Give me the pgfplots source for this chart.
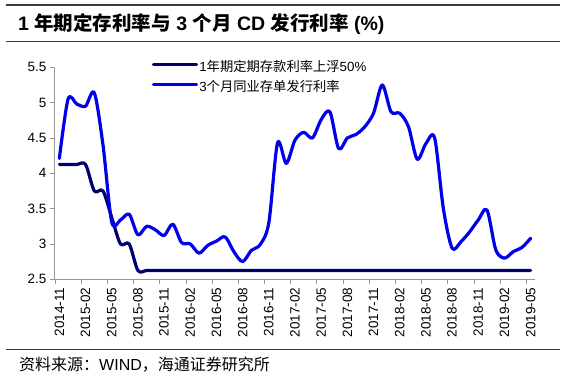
\documentclass[border=0pt]{standalone}
\usepackage{fontspec}
\setmainfont{Liberation Sans}
\newfontfamily\cjk{Noto Sans CJK SC}
\usepackage{pgfplots}
\usepackage{pgfplotstable}
\pgfplotsset{compat=1.18}
\definecolor{navy}{RGB}{0,0,110}
\definecolor{cdblue}{RGB}{0,0,235}
\definecolor{axgray}{RGB}{150,150,150}
\definecolor{rule}{RGB}{60,60,60}

% x = month index + 0.5 (2014-11 = 0)
\pgfplotstableread{
x y
0.5 4.125
1.5 4.125
2.5 4.125
3.5 4.125
4.5 3.75
5.5 3.75
6.5 3.375
7.5 3.0
8.5 3.0
9.5 2.625
10.5 2.625
11.5 2.625
12.5 2.625
13.5 2.625
14.5 2.625
15.5 2.625
16.5 2.625
17.5 2.625
18.5 2.625
19.5 2.625
20.5 2.625
21.5 2.625
22.5 2.625
23.5 2.625
24.5 2.625
25.5 2.625
26.5 2.625
27.5 2.625
28.5 2.625
29.5 2.625
30.5 2.625
31.5 2.625
32.5 2.625
33.5 2.625
34.5 2.625
35.5 2.625
36.5 2.625
37.5 2.625
38.5 2.625
39.5 2.625
40.5 2.625
41.5 2.625
42.5 2.625
43.5 2.625
44.5 2.625
45.5 2.625
46.5 2.625
47.5 2.625
48.5 2.625
49.5 2.625
50.5 2.625
51.5 2.625
52.5 2.625
53.5 2.625
54.5 2.625
}\deposit

\pgfplotstableread{
x y
0.5 4.21
1.5 5.05
2.5 4.98
3.5 4.95
4.5 5.14
5.5 4.40
6.5 3.31
7.5 3.34
8.5 3.42
9.5 3.13
10.5 3.25
11.5 3.20
12.5 3.12
13.5 3.28
14.5 3.02
15.5 3.00
16.5 2.87
17.5 2.98
18.5 3.04
19.5 3.10
20.5 2.89
21.5 2.75
22.5 2.91
23.5 2.99
24.5 3.30
25.5 4.43
26.5 4.14
27.5 4.47
28.5 4.58
29.5 4.50
30.5 4.76
31.5 4.87
32.5 4.35
33.5 4.50
34.5 4.55
35.5 4.66
36.5 4.85
37.5 5.25
38.5 4.87
39.5 4.85
40.5 4.66
41.5 4.20
42.5 4.42
43.5 4.50
44.5 3.50
45.5 2.94
46.5 3.03
47.5 3.17
48.5 3.34
49.5 3.48
50.5 2.92
51.5 2.80
52.5 2.89
53.5 2.95
54.5 3.08
}\cdrate

\begin{document}
\begin{tikzpicture}[x=1pt,y=1pt]
\path[use as bounding box] (0,0) rectangle (565,377);
\draw[rule, line width=1.3pt] (6,372) -- (560,372);
\draw[rule, line width=1.3pt] (6,335.3) -- (560,335.3);
\draw[rule, line width=1.3pt] (6,27.7) -- (560,27.7);
\node[anchor=west, inner sep=0pt, font=\fontsize{19.5}{21}\selectfont\bfseries] at (18,353)
  {1 {\cjk 年期定存利率与} 3 {\cjk 个月} CD {\cjk 发行利率} (\%)};
\node[anchor=west, inner sep=0pt, font=\fontsize{16}{18}\selectfont] at (19,12)
  {{\cjk 资料来源：}WIND{\cjk ，海通证券研究所}};

\begin{axis}[
  at={(55pt,97.7pt)}, anchor=south west,
  scale only axis, width=480pt, height=212pt,
  xmin=0, xmax=55, ymin=2.5, ymax=5.5,
  axis x line*=bottom, axis y line*=left,
  axis line style={axgray, line width=1pt, -},
  tick align=outside,
  major tick length=5pt, minor tick length=5pt,
  ytick={2.5,3,3.5,4,4.5,5,5.5},
  ytick style={axgray, line width=0.8pt},
  xtick={0.5,3.5,6.5,9.5,12.5,15.5,18.5,21.5,24.5,27.5,30.5,33.5,36.5,39.5,42.5,45.5,48.5,51.5,54.5},
  xticklabels={2014-11,2015-02,2015-05,2015-08,2015-11,2016-02,2016-05,2016-08,2016-11,2017-02,2017-05,2017-08,2017-11,2018-02,2018-05,2018-08,2018-11,2019-02,2019-05},
  major x tick style={draw=none},
  minor xtick={0,3,6,9,12,15,18,21,24,27,30,33,36,39,42,45,48,51,54},
  minor x tick style={axgray, line width=0.8pt},
  xticklabel style={rotate=90, anchor=east, font=\fontsize{13.5}{14}\selectfont},
  yticklabel style={font=\fontsize{13.5}{14}\selectfont},
  /pgf/number format/assume math mode=true,
  legend cell align=left,
  legend style={draw=none, fill=none, at={(0.2015,1.03)}, anchor=north west,
    inner sep=0pt, row sep=7.6pt,
    nodes={inner xsep=1.2pt, inner ysep=0pt, text height=10pt, text depth=3pt},
    font=\fontsize{13.3}{14}\selectfont},
  legend image code/.code={\draw[#1, line width=3.2pt] (0pt,3.5pt) -- (43pt,3.5pt);},
]
\addplot[navy, line width=3.2pt, smooth, tension=0.5, line join=round, line cap=round] table[x=x,y=y] {\deposit};
\addlegendentry{1{\cjk 年期定期存款利率上浮}50\%}
\addplot[cdblue, line width=3.2pt, smooth, tension=0.5, line join=round, line cap=round] table[x=x,y=y] {\cdrate};
\addlegendentry{3{\cjk 个月同业存单发行利率}}
\end{axis}
\end{tikzpicture}
\end{document}
